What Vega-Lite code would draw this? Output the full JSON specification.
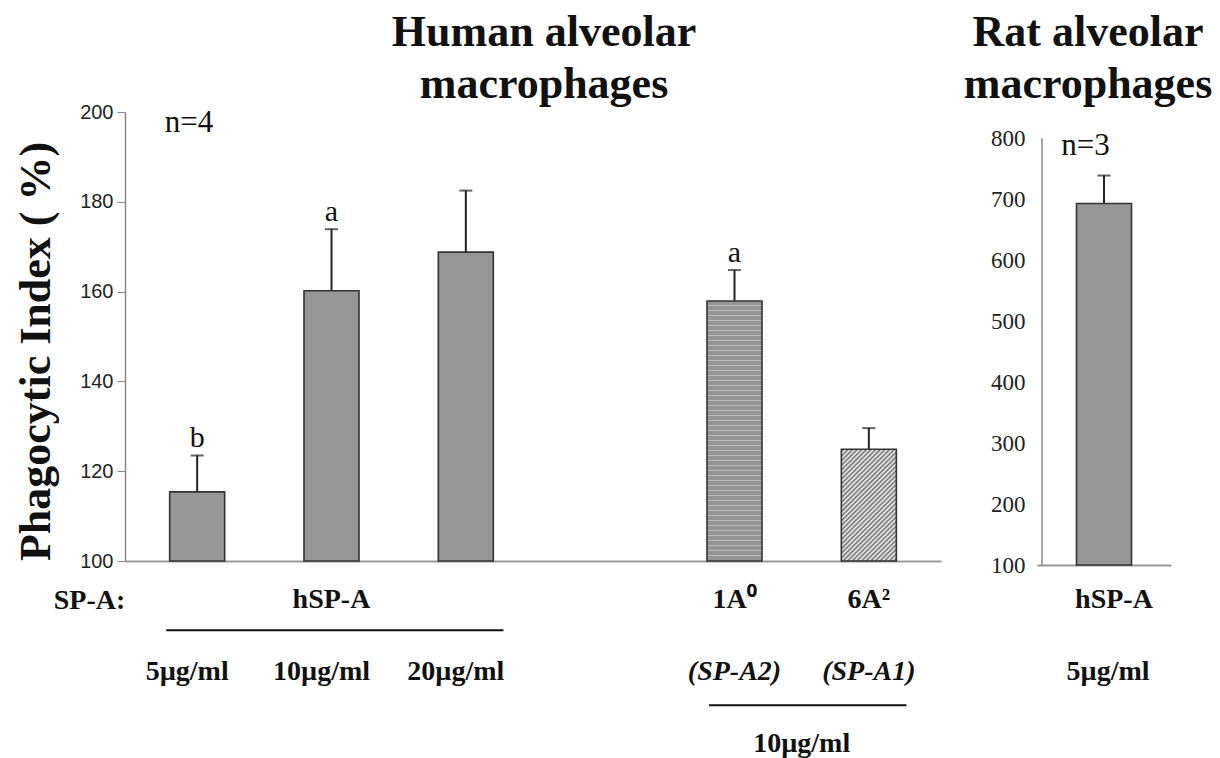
{
  "$schema": "https://vega.github.io/schema/vega-lite/v6.json",
  "background": "white",
  "padding": {"left": 13, "top": 11, "right": 0, "bottom": 0},
  "config": {"view": {"stroke": null}, "font": "Liberation Serif"},
  "spacing": 22,
  "datasets": {
    "human": [
      {"pos": 1, "protein": "hSP-A", "dose": "5µg/ml", "value": 115.4, "upper": 123.5, "sig": "b", "kind": "hSP-A"},
      {"pos": 2, "protein": "hSP-A", "dose": "10µg/ml", "value": 160.2, "upper": 173.9, "sig": "a", "kind": "hSP-A"},
      {"pos": 3, "protein": "hSP-A", "dose": "20µg/ml", "value": 168.8, "upper": 182.5, "sig": "", "kind": "hSP-A"},
      {"pos": 5, "protein": "1A⁰ (SP-A2)", "dose": "10µg/ml", "value": 157.9, "upper": 164.8, "sig": "a", "kind": "1A0"},
      {"pos": 6, "protein": "6A² (SP-A1)", "dose": "10µg/ml", "value": 124.9, "upper": 129.6, "sig": "", "kind": "6A2"}
    ],
    "rat": [
      {"pos": 1, "protein": "hSP-A", "dose": "5µg/ml", "value": 693, "upper": 739, "kind": "hSP-A"}
    ],
    "humanRow1": [
      {"pos": 2, "text": "hSP-A"},
      {"pos": 5, "text": "1A⁰"},
      {"pos": 6, "text": "6A²"}
    ],
    "humanRow2": [
      {"pos": 1, "text": "5µg/ml", "italic": false},
      {"pos": 2, "text": "10µg/ml", "italic": false},
      {"pos": 3, "text": "20µg/ml", "italic": false},
      {"pos": 5, "text": "(SP-A2)", "italic": true},
      {"pos": 6, "text": "(SP-A1)", "italic": true}
    ],
    "humanRow3": [
      {"pos": 5.5, "text": "10µg/ml"}
    ],
    "bracketTop": [{"from": 0.77, "to": 3.28}],
    "bracketBottom": [{"from": 4.81, "to": 6.28}],
    "ratRow1": [{"pos": 1, "text": "hSP-A"}],
    "ratRow2": [{"pos": 1, "text": "5µg/ml"}]
  },
  "hconcat": [
    {
      "width": 816,
      "height": 449,
      "title": {
        "text": ["Human alveolar", "macrophages"],
        "font": "Liberation Serif",
        "fontSize": 44,
        "fontWeight": "bold",
        "lineHeight": 52,
        "color": "#111",
        "anchor": "middle",
        "dx": 11,
        "offset": -5
      },
      "layer": [
        {
          "data": {"name": "human"},
          "mark": {"type": "rule", "color": "#222", "strokeWidth": 2},
          "encoding": {
            "x": {
              "field": "pos", "type": "quantitative",
              "scale": {"domain": [0.5, 6.5], "nice": false, "zero": false},
              "axis": {
                "title": "SP-A:", "titleFont": "Liberation Serif", "titleFontSize": 28, "titleFontWeight": "bold",
                "titleColor": "#111", "titleX": -36, "titleY": 47, "titleAlign": "center", "titleBaseline": "alphabetic",
                "labels": false, "ticks": false, "grid": false, "domainColor": "#999", "domainWidth": 2
              }
            },
            "y": {
              "field": "value", "type": "quantitative",
              "scale": {"domain": [100, 200], "nice": false, "zero": false},
              "axis": {
                "values": [100, 120, 140, 160, 180, 200],
                "title": "Phagocytic Index ( %)", "titleFont": "Liberation Serif", "titleFontSize": 44,
                "titleFontWeight": "bold", "titleColor": "#111", "titleAngle": 270, "titleX": -89, "titleY": 239,
                "titleAlign": "center", "titleBaseline": "middle",
                "labelFont": "Liberation Sans", "labelFontSize": 20, "labelColor": "#222", "labelPadding": 4,
                "tickSize": 8, "tickColor": "#888", "domainColor": "#888", "domainWidth": 1.5, "grid": false
              }
            },
            "y2": {"field": "upper"}
          }
        },
        {
          "data": {"name": "human"},
          "mark": {"type": "tick", "orient": "horizontal", "size": 13, "thickness": 2, "color": "#222"},
          "encoding": {
            "x": {"field": "pos", "type": "quantitative"},
            "y": {"field": "upper", "type": "quantitative"}
          }
        },
        {
          "data": {"name": "human"},
          "transform": [{"filter": "datum.kind === 'hSP-A'"}],
          "mark": {"type": "bar", "width": 55, "stroke": "#333", "strokeWidth": 1.6, "fill": "#969696"},
          "encoding": {
            "x": {"field": "pos", "type": "quantitative"},
            "y": {"field": "value", "type": "quantitative"},
            "y2": {"datum": 100}
          }
        },
        {
          "data": {"name": "human"},
          "transform": [{"filter": "datum.kind === '1A0'"}],
          "mark": {
            "type": "bar", "width": 55, "stroke": "#333", "strokeWidth": 1.6,
            "fill": {
              "gradient": "linear", "x1": 0, "y1": 0, "x2": 0, "y2": 1,
              "stops": [
                {"offset": 0, "color": "#959595"}, {"offset": 0.0144, "color": "#959595"}, {"offset": 0.0144, "color": "#eeeeee"},
                {"offset": 0.0192, "color": "#959595"}, {"offset": 0.0337, "color": "#959595"}, {"offset": 0.0337, "color": "#eeeeee"},
                {"offset": 0.0385, "color": "#959595"}, {"offset": 0.0529, "color": "#959595"}, {"offset": 0.0529, "color": "#eeeeee"},
                {"offset": 0.0577, "color": "#959595"}, {"offset": 0.0721, "color": "#959595"}, {"offset": 0.0721, "color": "#eeeeee"},
                {"offset": 0.0769, "color": "#959595"}, {"offset": 0.0913, "color": "#959595"}, {"offset": 0.0913, "color": "#eeeeee"},
                {"offset": 0.0962, "color": "#959595"}, {"offset": 0.1106, "color": "#959595"}, {"offset": 0.1106, "color": "#eeeeee"},
                {"offset": 0.1154, "color": "#959595"}, {"offset": 0.1298, "color": "#959595"}, {"offset": 0.1298, "color": "#eeeeee"},
                {"offset": 0.1346, "color": "#959595"}, {"offset": 0.1490, "color": "#959595"}, {"offset": 0.1490, "color": "#eeeeee"},
                {"offset": 0.1538, "color": "#959595"}, {"offset": 0.1683, "color": "#959595"}, {"offset": 0.1683, "color": "#eeeeee"},
                {"offset": 0.1731, "color": "#959595"}, {"offset": 0.1875, "color": "#959595"}, {"offset": 0.1875, "color": "#eeeeee"},
                {"offset": 0.1923, "color": "#959595"}, {"offset": 0.2067, "color": "#959595"}, {"offset": 0.2067, "color": "#eeeeee"},
                {"offset": 0.2115, "color": "#959595"}, {"offset": 0.2260, "color": "#959595"}, {"offset": 0.2260, "color": "#eeeeee"},
                {"offset": 0.2308, "color": "#959595"}, {"offset": 0.2452, "color": "#959595"}, {"offset": 0.2452, "color": "#eeeeee"},
                {"offset": 0.2500, "color": "#959595"}, {"offset": 0.2644, "color": "#959595"}, {"offset": 0.2644, "color": "#eeeeee"},
                {"offset": 0.2692, "color": "#959595"}, {"offset": 0.2837, "color": "#959595"}, {"offset": 0.2837, "color": "#eeeeee"},
                {"offset": 0.2885, "color": "#959595"}, {"offset": 0.3029, "color": "#959595"}, {"offset": 0.3029, "color": "#eeeeee"},
                {"offset": 0.3077, "color": "#959595"}, {"offset": 0.3221, "color": "#959595"}, {"offset": 0.3221, "color": "#eeeeee"},
                {"offset": 0.3269, "color": "#959595"}, {"offset": 0.3413, "color": "#959595"}, {"offset": 0.3413, "color": "#eeeeee"},
                {"offset": 0.3462, "color": "#959595"}, {"offset": 0.3606, "color": "#959595"}, {"offset": 0.3606, "color": "#eeeeee"},
                {"offset": 0.3654, "color": "#959595"}, {"offset": 0.3798, "color": "#959595"}, {"offset": 0.3798, "color": "#eeeeee"},
                {"offset": 0.3846, "color": "#959595"}, {"offset": 0.3990, "color": "#959595"}, {"offset": 0.3990, "color": "#eeeeee"},
                {"offset": 0.4038, "color": "#959595"}, {"offset": 0.4183, "color": "#959595"}, {"offset": 0.4183, "color": "#eeeeee"},
                {"offset": 0.4231, "color": "#959595"}, {"offset": 0.4375, "color": "#959595"}, {"offset": 0.4375, "color": "#eeeeee"},
                {"offset": 0.4423, "color": "#959595"}, {"offset": 0.4567, "color": "#959595"}, {"offset": 0.4567, "color": "#eeeeee"},
                {"offset": 0.4615, "color": "#959595"}, {"offset": 0.4760, "color": "#959595"}, {"offset": 0.4760, "color": "#eeeeee"},
                {"offset": 0.4808, "color": "#959595"}, {"offset": 0.4952, "color": "#959595"}, {"offset": 0.4952, "color": "#eeeeee"},
                {"offset": 0.5000, "color": "#959595"}, {"offset": 0.5144, "color": "#959595"}, {"offset": 0.5144, "color": "#eeeeee"},
                {"offset": 0.5192, "color": "#959595"}, {"offset": 0.5337, "color": "#959595"}, {"offset": 0.5337, "color": "#eeeeee"},
                {"offset": 0.5385, "color": "#959595"}, {"offset": 0.5529, "color": "#959595"}, {"offset": 0.5529, "color": "#eeeeee"},
                {"offset": 0.5577, "color": "#959595"}, {"offset": 0.5721, "color": "#959595"}, {"offset": 0.5721, "color": "#eeeeee"},
                {"offset": 0.5769, "color": "#959595"}, {"offset": 0.5913, "color": "#959595"}, {"offset": 0.5913, "color": "#eeeeee"},
                {"offset": 0.5962, "color": "#959595"}, {"offset": 0.6106, "color": "#959595"}, {"offset": 0.6106, "color": "#eeeeee"},
                {"offset": 0.6154, "color": "#959595"}, {"offset": 0.6298, "color": "#959595"}, {"offset": 0.6298, "color": "#eeeeee"},
                {"offset": 0.6346, "color": "#959595"}, {"offset": 0.6490, "color": "#959595"}, {"offset": 0.6490, "color": "#eeeeee"},
                {"offset": 0.6538, "color": "#959595"}, {"offset": 0.6683, "color": "#959595"}, {"offset": 0.6683, "color": "#eeeeee"},
                {"offset": 0.6731, "color": "#959595"}, {"offset": 0.6875, "color": "#959595"}, {"offset": 0.6875, "color": "#eeeeee"},
                {"offset": 0.6923, "color": "#959595"}, {"offset": 0.7067, "color": "#959595"}, {"offset": 0.7067, "color": "#eeeeee"},
                {"offset": 0.7115, "color": "#959595"}, {"offset": 0.7260, "color": "#959595"}, {"offset": 0.7260, "color": "#eeeeee"},
                {"offset": 0.7308, "color": "#959595"}, {"offset": 0.7452, "color": "#959595"}, {"offset": 0.7452, "color": "#eeeeee"},
                {"offset": 0.7500, "color": "#959595"}, {"offset": 0.7644, "color": "#959595"}, {"offset": 0.7644, "color": "#eeeeee"},
                {"offset": 0.7692, "color": "#959595"}, {"offset": 0.7837, "color": "#959595"}, {"offset": 0.7837, "color": "#eeeeee"},
                {"offset": 0.7885, "color": "#959595"}, {"offset": 0.8029, "color": "#959595"}, {"offset": 0.8029, "color": "#eeeeee"},
                {"offset": 0.8077, "color": "#959595"}, {"offset": 0.8221, "color": "#959595"}, {"offset": 0.8221, "color": "#eeeeee"},
                {"offset": 0.8269, "color": "#959595"}, {"offset": 0.8413, "color": "#959595"}, {"offset": 0.8413, "color": "#eeeeee"},
                {"offset": 0.8462, "color": "#959595"}, {"offset": 0.8606, "color": "#959595"}, {"offset": 0.8606, "color": "#eeeeee"},
                {"offset": 0.8654, "color": "#959595"}, {"offset": 0.8798, "color": "#959595"}, {"offset": 0.8798, "color": "#eeeeee"},
                {"offset": 0.8846, "color": "#959595"}, {"offset": 0.8990, "color": "#959595"}, {"offset": 0.8990, "color": "#eeeeee"},
                {"offset": 0.9038, "color": "#959595"}, {"offset": 0.9183, "color": "#959595"}, {"offset": 0.9183, "color": "#eeeeee"},
                {"offset": 0.9231, "color": "#959595"}, {"offset": 0.9375, "color": "#959595"}, {"offset": 0.9375, "color": "#eeeeee"},
                {"offset": 0.9423, "color": "#959595"}, {"offset": 0.9567, "color": "#959595"}, {"offset": 0.9567, "color": "#eeeeee"},
                {"offset": 0.9615, "color": "#959595"}, {"offset": 0.9760, "color": "#959595"}, {"offset": 0.9760, "color": "#eeeeee"},
                {"offset": 0.9808, "color": "#959595"}, {"offset": 1, "color": "#959595"}
              ]
            }
          },
          "encoding": {
            "x": {"field": "pos", "type": "quantitative"},
            "y": {"field": "value", "type": "quantitative"},
            "y2": {"datum": 100}
          }
        },
        {
          "data": {"name": "human"},
          "transform": [{"filter": "datum.kind === '6A2'"}],
          "mark": {
            "type": "bar", "width": 55, "stroke": "#333", "strokeWidth": 1.6,
            "fill": {
              "gradient": "linear", "x1": 0, "y1": 0, "x2": 0.59, "y2": 1.2,
              "stops": [
                {"offset": 0, "color": "#f2f2f2"}, {"offset": 0.0139, "color": "#707070"}, {"offset": 0.0278, "color": "#f2f2f2"},
                {"offset": 0.0417, "color": "#707070"}, {"offset": 0.0556, "color": "#f2f2f2"}, {"offset": 0.0694, "color": "#707070"},
                {"offset": 0.0833, "color": "#f2f2f2"}, {"offset": 0.0972, "color": "#707070"}, {"offset": 0.1111, "color": "#f2f2f2"},
                {"offset": 0.1250, "color": "#707070"}, {"offset": 0.1389, "color": "#f2f2f2"}, {"offset": 0.1528, "color": "#707070"},
                {"offset": 0.1667, "color": "#f2f2f2"}, {"offset": 0.1806, "color": "#707070"}, {"offset": 0.1944, "color": "#f2f2f2"},
                {"offset": 0.2083, "color": "#707070"}, {"offset": 0.2222, "color": "#f2f2f2"}, {"offset": 0.2361, "color": "#707070"},
                {"offset": 0.2500, "color": "#f2f2f2"}, {"offset": 0.2639, "color": "#707070"}, {"offset": 0.2778, "color": "#f2f2f2"},
                {"offset": 0.2917, "color": "#707070"}, {"offset": 0.3056, "color": "#f2f2f2"}, {"offset": 0.3194, "color": "#707070"},
                {"offset": 0.3333, "color": "#f2f2f2"}, {"offset": 0.3472, "color": "#707070"}, {"offset": 0.3611, "color": "#f2f2f2"},
                {"offset": 0.3750, "color": "#707070"}, {"offset": 0.3889, "color": "#f2f2f2"}, {"offset": 0.4028, "color": "#707070"},
                {"offset": 0.4167, "color": "#f2f2f2"}, {"offset": 0.4306, "color": "#707070"}, {"offset": 0.4444, "color": "#f2f2f2"},
                {"offset": 0.4583, "color": "#707070"}, {"offset": 0.4722, "color": "#f2f2f2"}, {"offset": 0.4861, "color": "#707070"},
                {"offset": 0.5000, "color": "#f2f2f2"}, {"offset": 0.5139, "color": "#707070"}, {"offset": 0.5278, "color": "#f2f2f2"},
                {"offset": 0.5417, "color": "#707070"}, {"offset": 0.5556, "color": "#f2f2f2"}, {"offset": 0.5694, "color": "#707070"},
                {"offset": 0.5833, "color": "#f2f2f2"}, {"offset": 0.5972, "color": "#707070"}, {"offset": 0.6111, "color": "#f2f2f2"},
                {"offset": 0.6250, "color": "#707070"}, {"offset": 0.6389, "color": "#f2f2f2"}, {"offset": 0.6528, "color": "#707070"},
                {"offset": 0.6667, "color": "#f2f2f2"}, {"offset": 0.6806, "color": "#707070"}, {"offset": 0.6944, "color": "#f2f2f2"},
                {"offset": 0.7083, "color": "#707070"}, {"offset": 0.7222, "color": "#f2f2f2"}, {"offset": 0.7361, "color": "#707070"},
                {"offset": 0.7500, "color": "#f2f2f2"}, {"offset": 0.7639, "color": "#707070"}, {"offset": 0.7778, "color": "#f2f2f2"},
                {"offset": 0.7917, "color": "#707070"}, {"offset": 0.8056, "color": "#f2f2f2"}, {"offset": 0.8194, "color": "#707070"},
                {"offset": 0.8333, "color": "#f2f2f2"}, {"offset": 0.8472, "color": "#707070"}, {"offset": 0.8611, "color": "#f2f2f2"},
                {"offset": 0.8750, "color": "#707070"}, {"offset": 0.8889, "color": "#f2f2f2"}, {"offset": 0.9028, "color": "#707070"},
                {"offset": 0.9167, "color": "#f2f2f2"}, {"offset": 0.9306, "color": "#707070"}, {"offset": 0.9444, "color": "#f2f2f2"},
                {"offset": 0.9583, "color": "#707070"}, {"offset": 0.9722, "color": "#f2f2f2"}, {"offset": 0.9861, "color": "#707070"},
                {"offset": 1, "color": "#f2f2f2"}
              ]
            }
          },
          "encoding": {
            "x": {"field": "pos", "type": "quantitative"},
            "y": {"field": "value", "type": "quantitative"},
            "y2": {"datum": 100}
          }
        },
        {
          "data": {"name": "human"},
          "mark": {"type": "text", "font": "Liberation Serif", "fontSize": 30, "baseline": "alphabetic", "dy": -8, "color": "#111"},
          "encoding": {
            "x": {"field": "pos", "type": "quantitative"},
            "y": {"field": "upper", "type": "quantitative"},
            "text": {"field": "sig"}
          }
        },
        {
          "data": {"values": [{"text": "n=4"}]},
          "mark": {"type": "text", "font": "Liberation Serif", "fontSize": 31, "baseline": "alphabetic", "color": "#111"},
          "encoding": {
            "x": {"datum": 0.94, "type": "quantitative"},
            "y": {"datum": 195.5, "type": "quantitative"},
            "text": {"field": "text"}
          }
        },
        {
          "data": {"name": "humanRow1"},
          "mark": {"type": "text", "font": "Liberation Serif", "fontSize": 28, "fontWeight": "bold", "baseline": "alphabetic", "color": "#111"},
          "encoding": {
            "x": {"field": "pos", "type": "quantitative"},
            "y": {"datum": 89.5, "type": "quantitative"},
            "text": {"field": "text"}
          }
        },
        {
          "data": {"name": "humanRow2"},
          "transform": [{"filter": "!datum.italic"}],
          "mark": {"type": "text", "font": "Liberation Serif", "fontSize": 28, "fontWeight": "bold", "baseline": "alphabetic", "dx": -10, "color": "#111"},
          "encoding": {
            "x": {"field": "pos", "type": "quantitative"},
            "y": {"datum": 73.5, "type": "quantitative"},
            "text": {"field": "text"}
          }
        },
        {
          "data": {"name": "humanRow2"},
          "transform": [{"filter": "datum.italic"}],
          "mark": {"type": "text", "font": "Liberation Serif", "fontSize": 28, "fontWeight": "bold", "fontStyle": "italic", "baseline": "alphabetic", "color": "#111"},
          "encoding": {
            "x": {"field": "pos", "type": "quantitative"},
            "y": {"datum": 73.5, "type": "quantitative"},
            "text": {"field": "text"}
          }
        },
        {
          "data": {"name": "humanRow3"},
          "mark": {"type": "text", "font": "Liberation Serif", "fontSize": 28, "fontWeight": "bold", "baseline": "alphabetic", "color": "#111"},
          "encoding": {
            "x": {"field": "pos", "type": "quantitative"},
            "y": {"datum": 57.5, "type": "quantitative"},
            "text": {"field": "text"}
          }
        },
        {
          "data": {"name": "bracketTop"},
          "mark": {"type": "rule", "color": "#111", "strokeWidth": 2},
          "encoding": {
            "x": {"field": "from", "type": "quantitative"},
            "x2": {"field": "to"},
            "y": {"datum": 84.6, "type": "quantitative"}
          }
        },
        {
          "data": {"name": "bracketBottom"},
          "mark": {"type": "rule", "color": "#111", "strokeWidth": 2},
          "encoding": {
            "x": {"field": "from", "type": "quantitative"},
            "x2": {"field": "to"},
            "y": {"datum": 67.9, "type": "quantitative"}
          }
        }
      ]
    },
    {
      "width": 134,
      "height": 453,
      "title": {
        "text": ["Rat alveolar", "macrophages"],
        "font": "Liberation Serif",
        "fontSize": 44,
        "fontWeight": "bold",
        "lineHeight": 52,
        "color": "#111",
        "anchor": "middle",
        "dx": -16,
        "offset": 5
      },
      "layer": [
        {
          "data": {"name": "rat"},
          "mark": {"type": "rule", "color": "#222", "strokeWidth": 2},
          "encoding": {
            "x": {
              "field": "pos", "type": "quantitative",
              "scale": {"domain": [0.5, 1.5], "nice": false, "zero": false},
              "axis": {"title": null, "labels": false, "ticks": false, "grid": false, "domainColor": "#999", "domainWidth": 2}
            },
            "y": {
              "field": "value", "type": "quantitative",
              "scale": {"domain": [100, 843.2], "nice": false, "zero": false},
              "axis": {
                "values": [100, 200, 300, 400, 500, 600, 700, 800],
                "title": null,
                "labelFont": "Liberation Serif", "labelFontSize": 23, "labelColor": "#222", "labelPadding": 12,
                "ticks": false, "domain": false, "grid": false
              }
            },
            "y2": {"field": "upper"}
          }
        },
        {
          "data": {"values": [{"from": 100, "to": 800}]},
          "mark": {"type": "rule", "color": "#888", "strokeWidth": 1.5},
          "encoding": {
            "x": {"datum": 0.5, "type": "quantitative"},
            "y": {"field": "from", "type": "quantitative"},
            "y2": {"field": "to"}
          }
        },
        {
          "data": {"name": "rat"},
          "mark": {"type": "tick", "orient": "horizontal", "size": 13, "thickness": 2, "color": "#222"},
          "encoding": {
            "x": {"field": "pos", "type": "quantitative"},
            "y": {"field": "upper", "type": "quantitative"}
          }
        },
        {
          "data": {"name": "rat"},
          "mark": {"type": "bar", "width": 55, "stroke": "#333", "strokeWidth": 1.6, "fill": "#969696"},
          "encoding": {
            "x": {"field": "pos", "type": "quantitative"},
            "y": {"field": "value", "type": "quantitative"},
            "y2": {"datum": 100}
          }
        },
        {
          "data": {"values": [{"text": "n=3"}]},
          "mark": {"type": "text", "font": "Liberation Serif", "fontSize": 31, "baseline": "alphabetic", "color": "#111"},
          "encoding": {
            "x": {"datum": 0.85, "type": "quantitative"},
            "y": {"datum": 772.7, "type": "quantitative"},
            "text": {"field": "text"}
          }
        },
        {
          "data": {"name": "ratRow1"},
          "mark": {"type": "text", "font": "Liberation Serif", "fontSize": 28, "fontWeight": "bold", "baseline": "alphabetic", "dx": 10, "color": "#111"},
          "encoding": {
            "x": {"field": "pos", "type": "quantitative"},
            "y": {"datum": 29.5, "type": "quantitative"},
            "text": {"field": "text"}
          }
        },
        {
          "data": {"name": "ratRow2"},
          "mark": {"type": "text", "font": "Liberation Serif", "fontSize": 28, "fontWeight": "bold", "baseline": "alphabetic", "dx": 4, "color": "#111"},
          "encoding": {
            "x": {"field": "pos", "type": "quantitative"},
            "y": {"datum": -88.7, "type": "quantitative"},
            "text": {"field": "text"}
          }
        }
      ]
    }
  ]
}
